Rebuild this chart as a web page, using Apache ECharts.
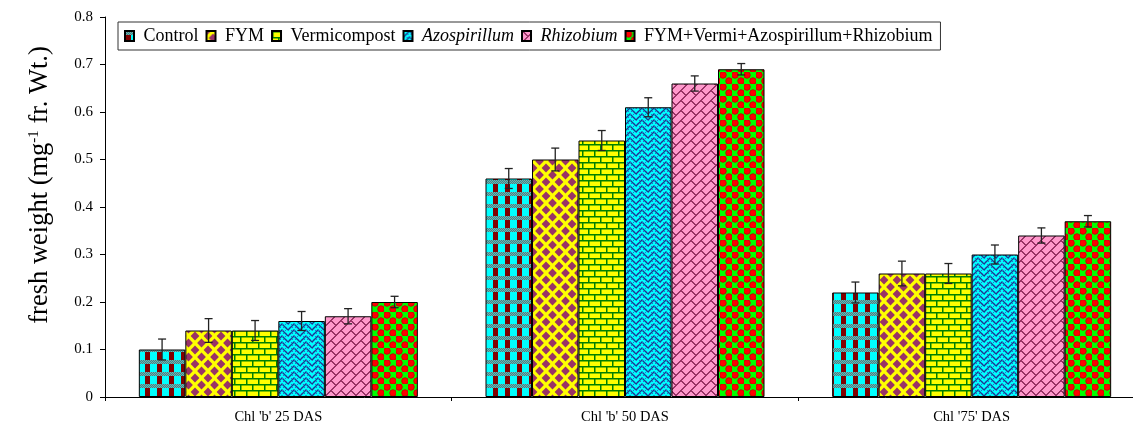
<!DOCTYPE html>
<html>
<head>
<meta charset="utf-8">
<script src="https://cdn.jsdelivr.net/npm/echarts@6/dist/echarts.min.js"></script>
<style>
  html, body { margin: 0; padding: 0; background: #fff; overflow: hidden; }
  #chart { width: 1150px; height: 427px; }
</style>
</head>
<body>
<div id="chart"></div>
<script>
// Chlorophyll 'b' fresh weight by treatment and sampling stage
const categories = ["Chl 'b' 25 DAS", "Chl 'b' 50 DAS", "Chl '75' DAS"];
const seriesNames = ['Control', 'FYM', 'Vermicompost', 'Azospirillum', 'Rhizobium', 'FYM+Vermi+Azospirillum+Rhizobium'];
const italicNames = ['Azospirillum', 'Rhizobium'];

const controlValues = [0.10, 0.46, 0.22];
const fymValues = [0.14, 0.50, 0.26];
const vermiValues = [0.14, 0.54, 0.26];
const azoValues = [0.16, 0.61, 0.30];
const rhizoValues = [0.17, 0.66, 0.34];
const comboValues = [0.20, 0.69, 0.37];

const controlErr = [0.022, 0.021, 0.022];
const fymErr = [0.025, 0.024, 0.026];
const vermiErr = [0.021, 0.021, 0.021];
const azoErr = [0.020, 0.020, 0.020];
const rhizoErr = [0.016, 0.016, 0.016];
const comboErr = [0.012, 0.012, 0.012];

const yTicks = { min: 0, max: 0.8, interval: 0.1 };

const allValues = [controlValues, fymValues, vermiValues, azoValues, rhizoValues, comboValues];
const allErrors = [controlErr, fymErr, vermiErr, azoErr, rhizoErr, comboErr];

const SERIF = '"Liberation Serif", "Times New Roman", serif';
const BAR_W = 46.5;

// ---- fill patterns ----
function tile(w, h, draw) {
  const c = document.createElement('canvas');
  c.width = w; c.height = h;
  const g = c.getContext('2d');
  draw(g, w, h);
  return c;
}

const patControl = tile(12, 12, (g) => {
  g.fillStyle = '#00FFFF'; g.fillRect(0, 0, 12, 12);
  for (let y = 0; y < 4; y++) {
    for (let x = 0; x < 12; x++) {
      g.fillStyle = (x + y) % 2 ? '#2F8F8F' : '#7FA8A8';
      g.fillRect(x, y, 1, 1);
    }
  }
  g.fillStyle = '#800000';
  g.fillRect(1, 4, 5, 8);
});

const patFym = tile(13, 14, (g) => {
  g.fillStyle = '#FFFF00'; g.fillRect(0, 0, 13, 14);
  g.fillStyle = '#993366';
  const r = 4.4;
  [[0, 0], [13, 0], [0, 14], [13, 14], [6.5, 7]].forEach(([cx, cy]) => {
    g.beginPath();
    g.moveTo(cx, cy - r); g.lineTo(cx + r, cy); g.lineTo(cx, cy + r); g.lineTo(cx - r, cy);
    g.closePath(); g.fill();
  });
});

const patVermi = tile(12, 12, (g) => {
  g.fillStyle = '#FFFF00'; g.fillRect(0, 0, 12, 12);
  g.fillStyle = '#008000';
  g.fillRect(0, 0, 12, 1.5);
  g.fillRect(0, 6, 12, 1.5);
  g.fillRect(0, 0, 1.5, 6);
  g.fillRect(6, 6, 1.5, 6);
});

const patAzo = tile(12, 12, (g) => {
  g.fillStyle = '#00FFFF'; g.fillRect(0, 0, 12, 12);
  g.strokeStyle = '#1A3A8F'; g.lineWidth = 1.4;
  g.beginPath();
  for (let k = -12; k <= 12; k += 6) {
    g.moveTo(0, 6 + k); g.lineTo(6, 0 + k); g.lineTo(12, 6 + k);
  }
  g.stroke();
  g.fillStyle = '#3366CC';
  for (let y = 0; y < 12; y += 3) for (let x = (y / 3) % 2; x < 12; x += 3) g.fillRect(x, y, 1, 1);
});

const patRhizo = tile(20, 20, (g) => {
  const img = g.createImageData(20, 20);
  for (let y = 0; y < 20; y++) {
    for (let x = 0; x < 20; x++) {
      const s = x + y;
      const t = ((x - y) % 20 + 20) % 20;
      const row = Math.floor(s / 10) % 2;
      const onLine = (s % 10) < 1.5;
      const onCross = ((t + row * 10) % 20) < 1.5;
      const i = (y * 20 + x) * 4;
      if (onLine || onCross) {
        img.data[i] = 0x99; img.data[i + 1] = 0x33; img.data[i + 2] = 0x66;
      } else {
        img.data[i] = 0xFF; img.data[i + 1] = 0x99; img.data[i + 2] = 0xCC;
      }
      img.data[i + 3] = 255;
    }
  }
  g.putImageData(img, 0, 0);
});

const patCombo = tile(12, 12, (g) => {
  g.fillStyle = '#00FF00'; g.fillRect(0, 0, 12, 12);
  g.fillStyle = '#FF0000'; g.strokeStyle = '#C00000'; g.lineWidth = 0.8;
  [[3, 3], [9, 9]].forEach(([cx, cy]) => {
    g.beginPath(); g.arc(cx, cy, 3.3, 0, Math.PI * 2); g.fill(); g.stroke();
  });
});

const patterns = [patControl, patFym, patVermi, patAzo, patRhizo, patCombo];

// ---- series ----
const barSeries = seriesNames.map((name, i) => ({
  name: name,
  type: 'bar',
  data: allValues[i],
  barWidth: BAR_W,
  barGap: '0%',
  itemStyle: {
    color: { image: patterns[i], repeat: 'repeat' },
    borderColor: '#000',
    borderWidth: 1
  },
  emphasis: { disabled: true },
  z: 2
}));

const errorData = [];
allValues.forEach((vals, s) => {
  vals.forEach((v, c) => {
    errorData.push([c, s, v - allErrors[s][c], v + allErrors[s][c]]);
  });
});

const errorSeries = {
  type: 'custom',
  data: errorData,
  z: 5,
  silent: true,
  encode: { x: 0, y: [2, 3] },
  renderItem: function (params, api) {
    const c = api.value(0);
    const s = api.value(1);
    const lo = api.coord([c, api.value(2)]);
    const hi = api.coord([c, api.value(3)]);
    const x = lo[0] + (s - 2.5) * BAR_W;
    const cap = 4;
    const style = { stroke: '#222', lineWidth: 1.3 };
    return {
      type: 'group',
      children: [
        { type: 'line', shape: { x1: x, y1: lo[1], x2: x, y2: hi[1] }, style: style },
        { type: 'line', shape: { x1: x - cap, y1: lo[1], x2: x + cap, y2: lo[1] }, style: style },
        { type: 'line', shape: { x1: x - cap, y1: hi[1], x2: x + cap, y2: hi[1] }, style: style }
      ]
    };
  }
};

const chart = echarts.init(document.getElementById('chart'), null, { renderer: 'canvas' });
chart.setOption({
  backgroundColor: '#fff',
  animation: false,
  grid: { left: 105, top: 17, width: 1040, bottom: 30, containLabel: false },
  legend: {
    data: seriesNames,
    left: 118,
    top: 22,
    orient: 'horizontal',
    icon: 'rect',
    itemWidth: 9,
    itemHeight: 10,
    itemGap: 7,
    padding: [5, 8, 5, 6],
    borderColor: '#333',
    borderWidth: 1,
    backgroundColor: '#fff',
    selectedMode: false,
    formatter: (n) => italicNames.includes(n) ? '{i| ' + n + '}' : ' ' + n,
    textStyle: {
      fontFamily: SERIF, fontSize: 18, color: '#000',
      rich: { i: { fontFamily: SERIF, fontSize: 18, fontStyle: 'italic', color: '#000' } }
    }
  },
  xAxis: {
    type: 'category',
    data: categories,
    axisLine: { lineStyle: { color: '#000', width: 1 } },
    axisTick: { show: true, length: 4, alignWithLabel: false, interval: 0, lineStyle: { color: '#000' } },
    axisLabel: { fontFamily: SERIF, fontSize: 14.5, color: '#000', margin: 13, interval: 0 },
    splitLine: { show: false }
  },
  yAxis: {
    type: 'value',
    min: yTicks.min,
    max: yTicks.max,
    interval: yTicks.interval,
    axisLine: { show: true, lineStyle: { color: '#000', width: 1 } },
    axisTick: { show: true, length: 5, lineStyle: { color: '#000' } },
    axisLabel: { fontFamily: SERIF, fontSize: 15, color: '#000', margin: 12 },
    splitLine: { show: false }
  },
  graphic: [{
    type: 'text',
    x: 40,
    y: 185,
    rotation: Math.PI / 2,
    style: {
      text: 'fresh weight (mg{s|-1} fr. Wt.)',
      align: 'center',
      verticalAlign: 'middle',
      fontFamily: SERIF,
      fontSize: 26.5,
      fill: '#000',
      rich: {
        s: { fontFamily: SERIF, fontSize: 15, verticalAlign: 'top', fill: '#000' }
      }
    }
  }],
  series: barSeries.concat([errorSeries])
});
</script>
</body>
</html>
